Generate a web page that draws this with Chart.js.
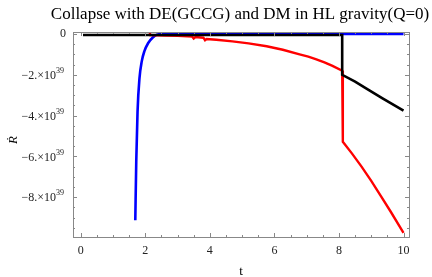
<!DOCTYPE html>
<html>
<head>
<meta charset="utf-8">
<script src="https://cdn.jsdelivr.net/npm/chart.js@4.4.1/dist/chart.umd.min.js"></script>
<style>
  html, body { margin: 0; padding: 0; background: #fff; }
  #wrap { width: 432px; height: 277px; }
</style>
</head>
<body>
<div id="wrap"><canvas id="c" width="432" height="277"></canvas></div>
<script>
// values (R dot in units of 1e39)
const E = 1e39;
const blueT = [1.69, 1.72, 1.76, 1.82, 1.89, 1.97, 2.09, 2.24, 2.36, 2.5, 10];
const blueR = [-9.13, -6.24, -3.79, -2.16, -1.34, -0.85, -0.44, -0.16, -0.03, 0, 0];

const redT = [2.14, 2.15, 2.6, 3.0, 3.45, 3.5, 3.55, 3.8, 3.85, 3.9, 4.2, 4.7, 5.2, 5.76, 6.26, 6.78, 7.05, 7.3, 7.55, 7.8, 8.1, 8.12, 8.4, 8.7, 9.0, 9.3, 9.6, 10];
const redR = [0.1, -0.05, -0.07, -0.09, -0.12, -0.22, -0.15, -0.18, -0.3, -0.24, -0.28, -0.36, -0.46, -0.6, -0.77, -1.0, -1.11, -1.24, -1.39, -1.56, -1.8, -5.28, -5.85, -6.5, -7.2, -7.95, -8.7, -9.75];

const blackT = [0.07, 8.1, 8.1, 8.5, 8.84, 9.35, 10];
const blackR = [-0.05, -0.05, -2.0, -2.33, -2.66, -3.15, -3.76];

const xMajor = [0, 2, 4, 6, 8, 10];
const yMajor = [0, -2, -4, -6, -8];

const pts = (xs, ys) => xs.map((x, i) => ({ x: x, y: ys[i] * E }));

const frame = {
  id: 'frame',
  afterDraw(chart) {
    const ctx = chart.ctx;
    const a = chart.chartArea;
    const xs = chart.scales.x, ys = chart.scales.y;
    ctx.save();
    ctx.strokeStyle = '#888';
    ctx.lineWidth = 1;
    ctx.strokeRect(a.left + 0.5, a.top + 0.5, a.right - a.left, a.bottom - a.top);

    // inward ticks on all sides
    ctx.beginPath();
    for (let v = 0; v <= 10.01; v += 0.5) {
      const px = Math.round(xs.getPixelForValue(v)) + 0.5;
      const len = Math.abs(v % 2) < 1e-6 ? 4 : 2;
      ctx.moveTo(px, a.bottom); ctx.lineTo(px, a.bottom - len);
      ctx.moveTo(px, a.top); ctx.lineTo(px, a.top + len);
    }
    for (let v = 0; v >= -9.51; v -= 0.5) {
      const py = Math.round(ys.getPixelForValue(v * E)) + 0.5;
      const len = Math.abs(v % 2) < 1e-6 ? 4 : 2;
      ctx.moveTo(a.left, py); ctx.lineTo(a.left + len, py);
      ctx.moveTo(a.right, py); ctx.lineTo(a.right - len, py);
    }
    ctx.stroke();

    ctx.fillStyle = '#222';
    ctx.textBaseline = 'middle';
    // x tick labels
    ctx.font = '12px "Liberation Serif"';
    ctx.textAlign = 'center';
    xMajor.forEach(v => ctx.fillText(String(v), xs.getPixelForValue(v), 251));

    // y tick labels
    yMajor.forEach(v => {
      const py = ys.getPixelForValue(v * E);
      if (v === 0) {
        ctx.font = '12px "Liberation Serif"';
        ctx.textAlign = 'right';
        ctx.fillText('0', 66, py);
        return;
      }
      ctx.font = '8px "Liberation Serif"';
      ctx.textAlign = 'right';
      ctx.fillText('39', 64, py - 4);
      const sw = ctx.measureText('39').width;
      ctx.font = '12px "Liberation Serif"';
      ctx.fillText('\u2212' + Math.abs(v) + '.\u00d710', 64 - sw, py + 1);
    });

    // title and axis labels
    ctx.fillStyle = '#000';
    ctx.textAlign = 'center';
    ctx.textBaseline = 'alphabetic';
    ctx.font = '17px "Liberation Serif"';
    ctx.fillText('Collapse with DE(GCCG) and DM in HL gravity(Q=0)', 240, 19);
    ctx.font = '13px "Liberation Serif"';
    ctx.fillText('t', 241, 275);
    ctx.translate(14, 140);
    ctx.rotate(-Math.PI / 2);
    ctx.textBaseline = 'middle';
    ctx.font = 'italic 13px "Liberation Serif"';
    ctx.fillText('\u1E58', 0, 0);
    ctx.restore();
  }
};

new Chart(document.getElementById('c'), {
  type: 'scatter',
  data: {
    datasets: [
      { data: pts(blackT, blackR), borderColor: '#000', borderWidth: 2.6, showLine: true, pointRadius: 0, order: 0 },
      { data: pts(redT, redR), borderColor: '#ff0000', borderWidth: 2.4, showLine: true, pointRadius: 0, order: 1 },
      { data: pts(blueT, blueR), borderColor: '#0000ff', borderWidth: 2.6, showLine: true, pointRadius: 0, order: 2, cubicInterpolationMode: 'monotone' }
    ]
  },
  options: {
    responsive: false,
    animation: false,
    layout: { padding: { left: 73, right: 23, top: 32, bottom: 40 } },
    plugins: { legend: { display: false }, tooltip: { enabled: false }, title: { display: false } },
    scales: {
      x: { type: 'linear', min: -0.24, max: 10.17, display: false },
      y: { type: 'linear', min: -9.95e39, max: 0.1e39, display: false }
    }
  },
  plugins: [frame]
});
</script>
</body>
</html>
